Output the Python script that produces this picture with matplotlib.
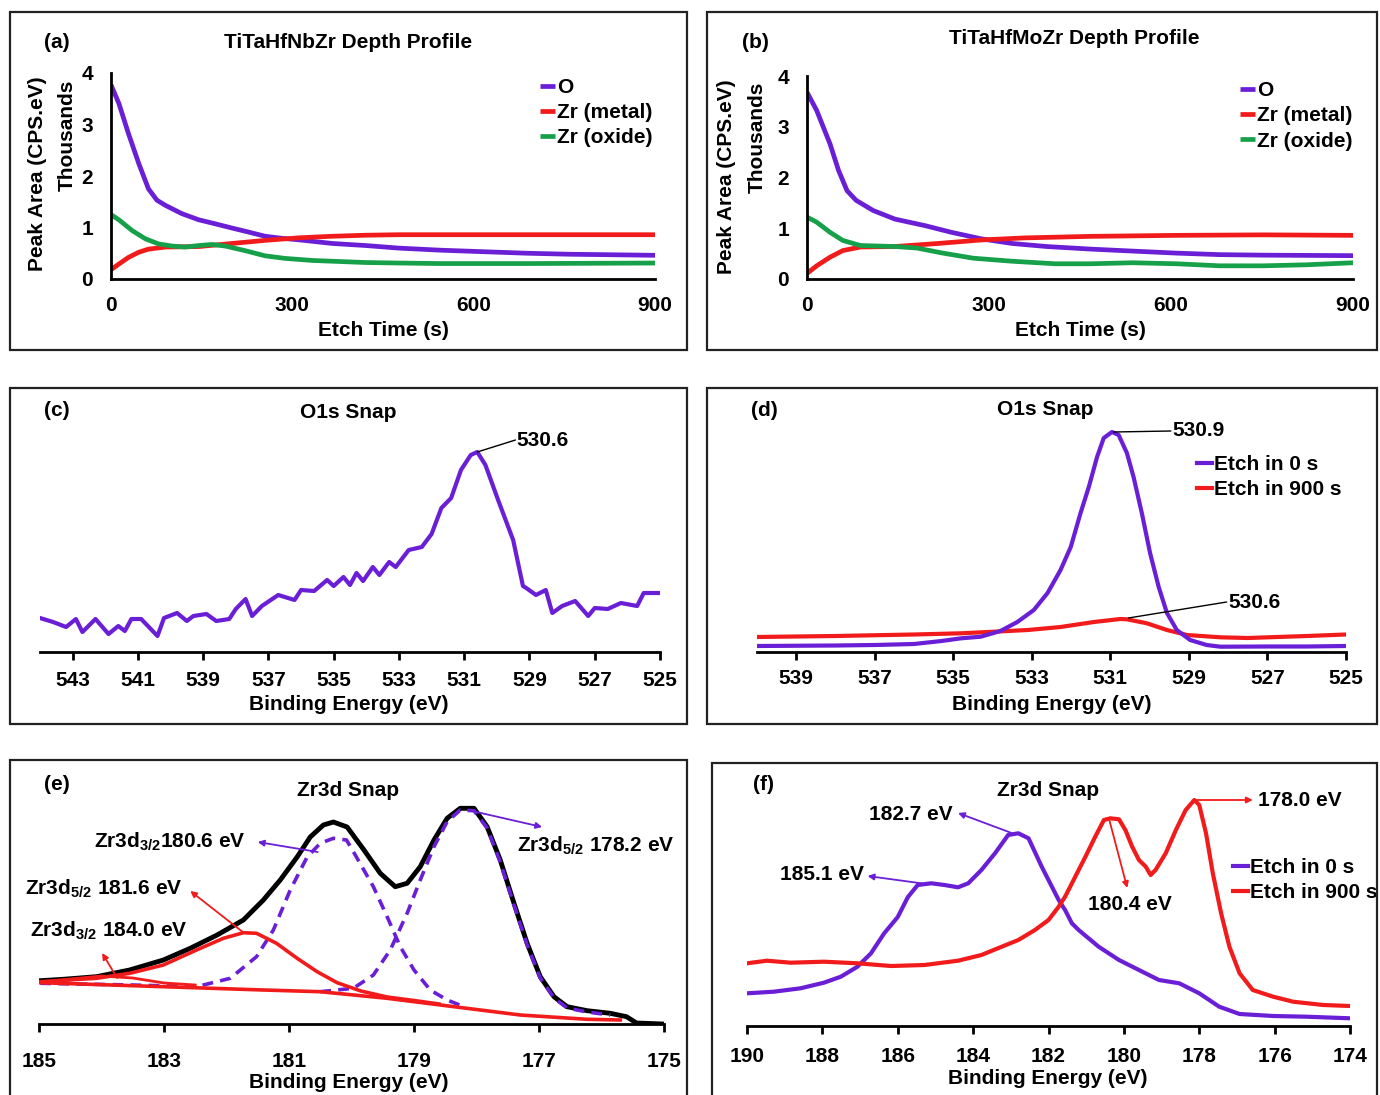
import matplotlib
matplotlib.use('Agg')
import matplotlib.pyplot as plt
from matplotlib.patches import Rectangle

plt.rcParams['font.family'] = ['Liberation Sans', 'DejaVu Sans']
plt.rcParams['font.weight'] = 'bold'
plt.rcParams['mathtext.fontset'] = 'custom'
plt.rcParams['mathtext.rm'] = 'Liberation Sans:bold'
plt.rcParams['mathtext.it'] = 'Liberation Sans:bold'
plt.rcParams['mathtext.bf'] = 'Liberation Sans:bold'
plt.rcParams['mathtext.default'] = 'rm'

PURPLE = '#6a1fd6'
RED = '#f21b1b'
GREEN = '#17a04a'
FS = 15

# ---- (a) TiTaHfNbZr depth profile (thousands CPS.eV) ----
a_t_O = [0, 13, 29, 46, 62, 76, 90, 117, 145, 173, 200, 228, 255, 283, 311, 366, 421, 476, 544, 616, 689, 762, 835, 900]
a_O = [3.77, 3.41, 2.82, 2.24, 1.75, 1.53, 1.43, 1.27, 1.15, 1.07, 0.99, 0.91, 0.83, 0.79, 0.76, 0.69, 0.65,
       0.60, 0.56, 0.53, 0.50, 0.48, 0.47, 0.46]
a_t_M = [0, 13, 29, 46, 62, 90, 145, 200, 255, 311, 366, 421, 476, 616, 762, 900]
a_M = [0.18, 0.29, 0.42, 0.52, 0.58, 0.62, 0.63, 0.69, 0.75, 0.80, 0.83, 0.85, 0.86, 0.86, 0.86, 0.86]
a_t_X = [0, 13, 35, 57, 79, 101, 123, 145, 167, 189, 222, 255, 288, 333, 377, 421, 476, 544, 689, 900]
a_X = [1.25, 1.15, 0.94, 0.78, 0.68, 0.64, 0.62, 0.65, 0.67, 0.64, 0.55, 0.45, 0.40, 0.36, 0.34, 0.32, 0.31,
       0.30, 0.30, 0.31]

# ---- (b) TiTaHfMoZr depth profile ----
b_t_O = [0, 16, 38, 52, 66, 81, 109, 145, 195, 238, 288, 338, 395, 466, 537, 609, 680, 752, 900]
b_O = [3.68, 3.32, 2.66, 2.14, 1.74, 1.55, 1.35, 1.18, 1.05, 0.92, 0.79, 0.70, 0.64, 0.59, 0.55, 0.51, 0.48, 0.47, 0.46]
b_t_M = [0, 16, 38, 59, 88, 145, 216, 288, 359, 466, 609, 752, 900]
b_M = [0.11, 0.26, 0.43, 0.56, 0.63, 0.64, 0.70, 0.77, 0.81, 0.84, 0.86, 0.87, 0.86]
b_t_X = [0, 16, 38, 59, 88, 145, 181, 224, 274, 338, 409, 466, 537, 609, 680, 752, 823, 900]
b_X = [1.22, 1.12, 0.92, 0.76, 0.66, 0.64, 0.61, 0.51, 0.41, 0.35, 0.30, 0.30, 0.32, 0.30, 0.26, 0.26, 0.28, 0.32]

depth_labels = ['O', 'Zr (metal)', 'Zr (oxide)']

# ---- (c) O1s snap (a.u.) ----
c_be = [544.0, 543.6, 543.2, 542.9, 542.7, 542.3, 541.9, 541.6, 541.4, 541.2, 540.9, 540.4, 540.2,
        539.8, 539.5, 539.3, 538.9, 538.6, 538.2, 538.0, 537.7, 537.5, 537.2, 536.7, 536.2, 536.0,
        535.6, 535.2, 535.0, 534.7, 534.5, 534.3, 534.1, 533.8, 533.6, 533.3, 533.1, 532.7, 532.3,
        532.0, 531.7, 531.4, 531.1, 530.8, 530.6, 530.35, 529.95, 529.5, 529.2, 529.1, 528.8, 528.5,
        528.3, 528.0, 527.6, 527.2, 527.0, 526.6, 526.2, 525.7, 525.5, 525.0]
c_int = [3.4, 3.0, 2.5, 3.3, 2.0, 3.3, 1.8, 2.6, 2.1, 3.3, 3.3, 1.6, 3.4,
         3.9, 3.1, 3.6, 3.8, 3.1, 3.3, 4.3, 5.3, 3.6, 4.6, 5.7, 5.2, 6.2,
         6.1, 7.2, 6.6, 7.5, 6.7, 7.9, 7.1, 8.5, 7.7, 9.0, 8.5, 10.2, 10.5,
         11.8, 14.4, 15.4, 18.2, 19.7, 20.0, 18.7, 15.1, 11.2, 6.6, 6.4, 5.7, 6.2,
         3.9, 4.6, 5.1, 3.6, 4.4, 4.3, 4.9, 4.6, 5.9, 5.9]

# ---- (d) O1s snap, 0 s vs 900 s ----
d_be0 = [540, 538, 537, 536, 535.3, 534.8, 534.3, 533.8, 533.37, 532.95, 532.6, 532.27, 532.01, 531.76,
         531.55, 531.34, 531.17, 530.96, 530.79, 530.58, 530.41, 530.2, 529.99, 529.77, 529.56, 529.31,
         528.97, 528.55, 528.2, 527, 526, 525]
d_int0 = [0.6, 0.65, 0.7, 0.8, 1.1, 1.37, 1.53, 2.1, 3.0, 4.2, 5.9, 8.2, 10.5, 13.9,
          16.5, 19.5, 21.4, 22.0, 21.7, 19.9, 17.5, 13.9, 9.9, 6.5, 3.9, 2.2,
          1.2, 0.7, 0.53, 0.55, 0.55, 0.6]
d_be900 = [540, 538, 536, 534.8, 533.96, 533.1, 532.27, 531.42, 530.75, 530.58, 530.07, 529.56, 529.05,
           528.2, 527.5, 526, 525]
d_int900 = [1.5, 1.6, 1.75, 1.87, 2.03, 2.2, 2.5, 3.0, 3.3, 3.27, 2.87, 2.2, 1.7,
            1.47, 1.4, 1.6, 1.75]
etch_labels = ['Etch in 0 s', 'Etch in 900 s']

# ---- (e) Zr3d snap with fitted components ----
e_be = [184.98, 184.61, 184.08, 183.55, 183.01, 182.58, 182.15, 181.73, 181.41, 181.14, 180.87, 180.66,
        180.45, 180.29, 180.07, 179.8, 179.54, 179.3, 179.11, 178.9, 178.68, 178.47, 178.26, 178.04,
        177.83, 177.62, 177.4, 177.19, 176.98, 176.76, 176.55, 176.23, 175.86, 175.6, 175.44, 175.02]
e_env = [4.33, 4.47, 4.73, 5.4, 6.4, 7.57, 8.9, 10.4, 12.4, 14.4, 16.7, 18.7,
         19.9, 20.2, 19.7, 17.4, 15.07, 13.73, 14.07, 15.73, 18.4, 20.57, 21.57, 21.57,
         19.73, 16.4, 12.07, 8.07, 4.73, 2.73, 1.73, 1.33, 1.07, 0.73, 0.1, 0.0]
e_p1_be = [184.98, 183.5, 182.48, 181.94, 181.52, 181.25, 180.98, 180.71, 180.5, 180.29, 180.08, 179.97,
           179.65, 179.43, 179.22, 179.0, 178.74, 178.47, 178.2]
e_p1 = [4.07, 3.9, 3.73, 4.57, 6.73, 9.4, 13.4, 16.7, 18.07, 18.57, 18.4, 17.23,
        13.73, 10.73, 7.73, 5.4, 3.4, 2.4, 1.73]
e_p2_be = [180.5, 179.97, 179.65, 179.38, 179.11, 178.9, 178.68, 178.47, 178.26, 178.04, 177.83, 177.62,
           177.4, 177.19, 176.98, 176.76, 176.55, 176.23, 175.86]
e_p2 = [3.23, 3.57, 4.9, 7.4, 11.07, 14.4, 17.73, 20.23, 21.4, 21.33, 19.6, 16.2,
        11.9, 7.9, 4.6, 2.6, 1.6, 1.2, 0.9]
e_p3_be = [184.98, 184.08, 183.55, 183.01, 182.48, 182.05, 181.73, 181.52, 181.2, 180.87, 180.55, 180.23,
           179.85, 179.43, 179.0, 178.6]
e_p3 = [4.23, 4.57, 5.07, 5.9, 7.4, 8.57, 9.13, 9.07, 8.07, 6.57, 5.23, 4.13, 3.3, 2.7, 2.35, 2.0]
e_p4_be = [184.98, 184.5, 184.0, 183.5, 183.0, 182.5]
e_p4 = [4.2, 4.5, 4.8, 4.6, 4.1, 3.9]
e_bg_be = [184.98, 183.01, 181.41, 180.5, 179.43, 178.36, 177.3, 176.23, 175.7]
e_bg = [4.13, 3.73, 3.4, 3.23, 2.57, 1.73, 0.9, 0.47, 0.4]

# ---- (f) Zr3d snap, 0 s vs 900 s ----
f_be0 = [190, 189.29, 188.58, 187.96, 187.51, 187.07, 186.71, 186.36, 186.0, 185.73, 185.47, 185.11,
         184.76, 184.4, 184.13, 183.78, 183.42, 183.07, 182.8, 182.53, 182.18, 181.91, 181.73, 181.56,
         181.38, 181.2, 180.67, 180.13, 179.6, 179.07, 178.53, 178.0, 177.47, 176.93, 176.04, 175.16, 174.0]
f_int0 = [3.27, 3.43, 3.77, 4.33, 4.93, 5.93, 7.27, 9.27, 10.9, 12.9, 14.1, 14.27,
          14.1, 13.87, 14.27, 15.6, 17.27, 19.1, 19.27, 18.77, 15.93, 13.93, 12.6, 11.6,
          10.27, 9.6, 7.93, 6.6, 5.6, 4.6, 4.27, 3.27, 1.93, 1.2, 1.0, 0.93, 0.77]
f_be900 = [190, 189.47, 188.84, 187.96, 187.07, 186.18, 185.29, 184.4, 183.78, 183.24, 182.8, 182.36,
           182.0, 181.73, 181.56, 181.29, 181.02, 180.76, 180.53, 180.36, 180.13, 179.96, 179.78, 179.6,
           179.42, 179.29, 179.16, 178.89, 178.62, 178.36, 178.13, 178.0, 177.82, 177.64, 177.42, 177.2,
           176.93, 176.58, 176.04, 175.51, 174.71, 174.0]
f_int900 = [6.27, 6.53, 6.33, 6.43, 6.27, 6.0, 6.1, 6.53, 7.1, 7.93, 8.6, 9.6,
            10.6, 11.93, 12.93, 14.93, 16.93, 18.93, 20.6, 20.77, 20.67, 19.6, 17.93, 16.6,
            15.93, 15.1, 15.6, 17.27, 19.6, 21.6, 22.6, 22.1, 19.27, 15.27, 11.27, 7.93,
            5.27, 3.6, 2.93, 2.43, 2.1, 2.0]

W, H = 1380, 1095
fig = plt.figure(figsize=(13.8, 10.95), dpi=100)


def add_ax(l, t, r, b):
    ax = fig.add_axes([l / W, 1 - b / H, (r - l) / W, (b - t) / H])
    ax.set_facecolor('none')
    return ax


def ftext(x, y, s, **kw):
    fig.text(x / W, 1 - y / H, s, ha=kw.pop('ha', 'center'), va=kw.pop('va', 'center'),
             fontsize=kw.pop('fontsize', FS), fontweight='bold', **kw)


def box(l, t, r, b):
    fig.add_artist(Rectangle((l / W, 1 - b / H), (r - l) / W, (b - t) / H, transform=fig.transFigure,
                             fill=False, lw=1.6, ec='#222222'))


def depth_panel(ax, series, leg_xy):
    for (t, v), c, lab in zip(series, [PURPLE, RED, GREEN], depth_labels):
        ax.plot(t, v, color=c, lw=3.4, label=lab, solid_capstyle='butt', solid_joinstyle='round')
    ax.set_xlim(0, 900)
    ax.set_ylim(0, 4)
    ax.set_xticks([0, 300, 600, 900])
    ax.set_yticks([0, 1, 2, 3, 4])
    for s in ['top', 'right']:
        ax.spines[s].set_visible(False)
    for s in ['left', 'bottom']:
        ax.spines[s].set_linewidth(2)
    ax.tick_params(length=0, labelsize=FS)
    ax.tick_params(axis='x', pad=12)
    ax.tick_params(axis='y', pad=13)
    ax.legend(loc='upper left', bbox_to_anchor=leg_xy, frameon=False, fontsize=FS,
              handlelength=0.7, handletextpad=0.1, labelspacing=0.3, borderaxespad=0, borderpad=0)


def spec_axes(ax, xlim, ticks, pad):
    ax.set_xlim(*xlim)
    ax.set_ylim(0, 23)
    ax.set_xticks(ticks)
    ax.set_yticks([])
    for s in ['top', 'right', 'left']:
        ax.spines[s].set_visible(False)
    ax.spines['bottom'].set_linewidth(2)
    ax.tick_params(axis='x', direction='out', length=6, width=2, labelsize=FS, pad=pad)


def arrow(ax, tail, head, color):
    ax.annotate('', xy=head, xytext=tail,
                arrowprops=dict(arrowstyle='-|>', color=color, lw=1.3, mutation_scale=9,
                                shrinkA=0, shrinkB=0))


def leader(ax, p1, p2):
    ax.annotate('', xy=p2, xytext=p1,
                arrowprops=dict(arrowstyle='-', color='black', lw=1.0, shrinkA=0, shrinkB=0))


# boxes
box(10, 12, 687, 350)
box(707, 12, 1377, 350)
box(10, 388, 687, 724)
box(707, 388, 1377, 724)
box(10, 760, 687, 1110)
box(712, 763, 1377, 1110)

# (a)
ax = add_ax(111, 73, 655, 279)
depth_panel(ax, [(a_t_O, a_O), (a_t_M, a_M), (a_t_X, a_X)], (0.789, 0.976))
ftext(57, 42, '(a)')
ftext(348, 42, 'TiTaHfNbZr Depth Profile')
ftext(383, 330, 'Etch Time (s)')
ftext(38, 174, 'Peak Area (CPS.eV)', rotation=90)
ftext(67, 135, 'Thousands', rotation=90)

# (b)
ax = add_ax(807, 76, 1353, 279)
depth_panel(ax, [(b_t_O, b_O), (b_t_M, b_M), (b_t_X, b_X)], (0.793, 0.975))
ftext(755, 42, '(b)')
ftext(1074, 38, 'TiTaHfMoZr Depth Profile')
ftext(1080, 330, 'Etch Time (s)')
ftext(727, 177, 'Peak Area (CPS.eV)', rotation=90)
ftext(757, 137, 'Thousands', rotation=90)

# (c)
ax = add_ax(40, 422, 660, 652)
ax.plot(c_be, c_int, color=PURPLE, lw=3, solid_joinstyle='round')
spec_axes(ax, (544, 525), list(range(543, 524, -2)), 8)
leader(ax, (530.6, 20.0), (529.43, 21.2))
ax.text(529.4, 21.2, '530.6', fontsize=FS, fontweight='bold', ha='left', va='center')
ftext(57, 410, '(c)')
ftext(348, 413, 'O1s Snap')
ftext(349, 705, 'Binding Energy (eV)')

# (d)
ax = add_ax(757, 422, 1346, 652)
ax.plot(d_be900, d_int900, color=RED, lw=3, label=etch_labels[1], solid_joinstyle='round')
ax.plot(d_be0, d_int0, color=PURPLE, lw=3, label=etch_labels[0], solid_joinstyle='round')
spec_axes(ax, (540, 525), list(range(539, 524, -2)), 6)
h, l = ax.get_legend_handles_labels()
ax.legend(h[::-1], l[::-1], loc='upper left', bbox_to_anchor=(0.747, 0.857), frameon=False,
          fontsize=FS, handlelength=0.7, handletextpad=0.1, labelspacing=0.3, borderaxespad=0, borderpad=0)
leader(ax, (530.92, 22.0), (529.46, 22.1))
ax.text(529.43, 22.1, '530.9', fontsize=FS, fontweight='bold', ha='left', va='center')
leader(ax, (530.54, 3.4), (528.04, 5.0))
ax.text(528.0, 4.9, '530.6', fontsize=FS, fontweight='bold', ha='left', va='center')
ftext(764, 410, '(d)')
ftext(1045, 409, 'O1s Snap')
ftext(1052, 704, 'Binding Energy (eV)')

# (e)
ax = add_ax(39, 794, 664, 1024)
ax.plot(e_be, e_env, color='black', lw=3.5, solid_joinstyle='round')
ax.plot(e_p1_be, e_p1, color=PURPLE, lw=2.6, ls=(0, (3, 2)))
ax.plot(e_p2_be, e_p2, color=PURPLE, lw=2.6, ls=(0, (3, 2)))
ax.plot(e_bg_be, e_bg, color=RED, lw=2.6)
ax.plot(e_p3_be, e_p3, color=RED, lw=2.6, solid_joinstyle='round')
ax.plot(e_p4_be, e_p4, color=RED, lw=2.0)
spec_axes(ax, (185, 175), list(range(185, 174, -2)), 14)
ax.text(181.7, 18.2, r'Zr3d$_{3/2}$180.6 eV', fontsize=FS, fontweight='bold', ha='right', va='center')
arrow(ax, (180.54, 17.2), (181.5, 18.2), PURPLE)
ax.text(177.35, 17.8, r'Zr3d$_{5/2}$ 178.2 eV', fontsize=FS, fontweight='bold', ha='left', va='center')
arrow(ax, (178.14, 21.4), (176.95, 19.7), PURPLE)
ax.text(182.7, 13.5, r'Zr3d$_{5/2}$ 181.6 eV', fontsize=FS, fontweight='bold', ha='right', va='center')
arrow(ax, (181.74, 9.2), (182.58, 13.3), RED)
ax.text(182.63, 9.3, r'Zr3d$_{3/2}$ 184.0 eV', fontsize=FS, fontweight='bold', ha='right', va='center')
arrow(ax, (183.75, 4.6), (183.99, 7.1), RED)
ftext(57, 785, '(e)')
ftext(348, 790, 'Zr3d Snap')
ftext(349, 1083, 'Binding Energy (eV)')

# (f)
ax = add_ax(747, 796, 1350, 1026)
ax.plot(f_be0, f_int0, color=PURPLE, lw=3, label=etch_labels[0], solid_joinstyle='round')
ax.plot(f_be900, f_int900, color=RED, lw=3, label=etch_labels[1], solid_joinstyle='round')
spec_axes(ax, (190, 174), list(range(190, 173, -2)), 9)
ax.legend(loc='upper left', bbox_to_anchor=(0.806, 0.73), frameon=False, fontsize=FS,
          handlelength=0.7, handletextpad=0.1, labelspacing=0.3, borderaxespad=0, borderpad=0)
ax.text(176.45, 22.6, '178.0 eV', fontsize=FS, fontweight='bold', ha='left', va='center')
arrow(ax, (178.09, 22.6), (176.58, 22.6), RED)
ax.text(184.54, 21.1, '182.7 eV', fontsize=FS, fontweight='bold', ha='right', va='center')
arrow(ax, (182.98, 19.3), (184.4, 21.3), PURPLE)
ax.text(186.9, 15.1, '185.1 eV', fontsize=FS, fontweight='bold', ha='right', va='center')
arrow(ax, (185.24, 14.2), (186.8, 15.0), PURPLE)
ax.text(179.84, 12.2, '180.4 eV', fontsize=FS, fontweight='bold', ha='center', va='center')
arrow(ax, (180.4, 20.8), (179.91, 13.8), RED)
ftext(763, 785, '(f)')
ftext(1048, 790, 'Zr3d Snap')
ftext(1048, 1079, 'Binding Energy (eV)')

fig.savefig('out.png', dpi=100)
